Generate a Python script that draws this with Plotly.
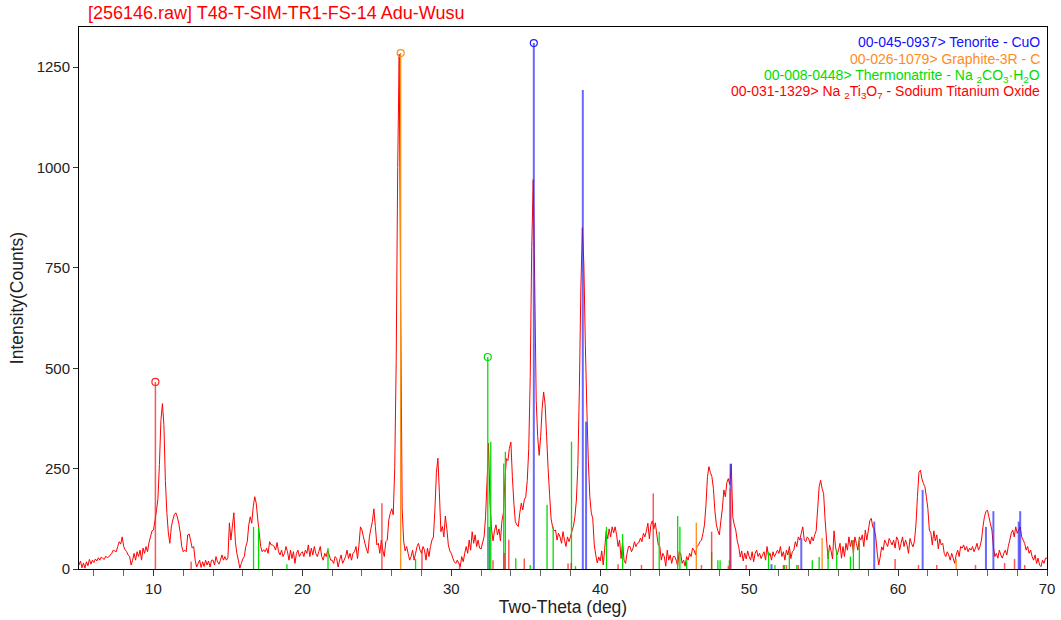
import numpy as np
import plotly.graph_objects as go

# ---- measured pattern: 2-theta 5.0 .. 70.0 deg, 0.1 deg step ----
two_theta_start = 5.0
two_theta_step = 0.1
counts = [
    10, 20, 3, 15, 2, 18, 8, 24, 12, 22,            # 5
    16, 25, 20, 28, 22, 30, 26, 24, 32, 28,         # 6
    30, 35, 39, 47, 45, 43, 56, 68, 62, 80,         # 7
    56, 48, 43, 35, 31, 10, 22, 39, 22, 43,         # 8
    31, 47, 22, 52, 39, 56, 43, 66, 80, 95,         # 9
    97, 120, 145, 175, 260, 370, 412, 360, 220, 140,  # 10
    90, 64, 105, 122, 135, 140, 130, 114, 90, 56,   # 11
    43, 47, 43, 85, 87, 70, 52, 56, 22, 5,          # 12
    14, 22, 4, 18, 6, 22, 10, 20, 5, 22,            # 13
    22, 10, 31, 18, 12, 22, 35, 22, 31, 22,         # 14
    28, 115, 72, 107, 140, 68, 39, 22, 2, 14,       # 15
    25, 31, 56, 68, 110, 130, 114, 155, 180, 164,   # 16
    125, 90, 56, 43, 48, 43, 52, 39, 68, 60,        # 17
    60, 56, 47, 66, 43, 35, 47, 31, 39, 56,         # 18
    43, 22, 47, 26, 43, 14, 39, 47, 31, 39,         # 19
    43, 31, 47, 39, 60, 31, 52, 35, 56, 39,         # 20
    31, 43, 56, 31, 22, 39, 31, 47, 35, 22,         # 21
    22, 14, 31, 26, 5, 22, 35, 14, 22, 31,          # 22
    47, 26, 39, 22, 39, 43, 56, 26, 60, 105,        # 23
    97, 80, 64, 50, 39, 80, 100, 118, 150, 106,     # 24
    60, 64, 39, 72, 47, 31, 68, 72, 122, 139,       # 25
    150, 135, 250, 520, 1000, 1282, 650, 150, 70, 45,  # 26
    56, 39, 22, 31, 47, 22, 39, 56, 64, 47,         # 27
    39, 56, 47, 22, 52, 31, 56, 72, 80, 150,        # 28
    240, 276, 190, 93, 106, 80, 132, 100, 60, 45,   # 29
    39, 27, 18, 14, 22, 14, 6, 31, 18, 39,          # 30
    56, 39, 72, 47, 93, 64, 85, 56, 72, 52,         # 31
    50, 65, 80, 130, 220, 313, 160, 100, 70, 95,    # 32
    110, 85, 100, 70, 120, 140, 220, 275, 270, 300, # 33
    316, 230, 164, 118, 110, 106, 140, 164, 147, 172,  # 34
    180, 220, 300, 480, 800, 970, 720, 420, 330, 283,  # 35
    330, 400, 441, 410, 330, 250, 185, 125, 105, 95,   # 36
    97, 72, 89, 80, 64, 93, 72, 56, 80, 68,         # 37
    80, 95, 106, 130, 172, 260, 450, 700, 850, 760, # 38
    560, 400, 270, 180, 140, 125, 60, 35, 15, 30,   # 39
    20, 45, 10, 50, 95, 75, 100, 80, 105, 90,       # 40
    105, 85, 56, 72, 26, 68, 22, 14, 39, 56,        # 41
    56, 43, 52, 68, 56, 64, 66, 77, 68, 89,         # 42
    80, 95, 114, 75, 110, 120, 100, 115, 85, 60,    # 43
    56, 22, 39, 31, 7, 47, 22, 35, 14, 31,          # 44
    31, 22, 7, 43, 39, 14, 22, 7, 31, 22,           # 45
    39, 31, 52, 47, 35, 56, 60, 68, 72, 89,         # 46
    110, 160, 230, 255, 240, 230, 200, 145, 110, 95,  # 47
    85, 120, 150, 197, 180, 215, 225, 210, 262, 130,  # 48
    110, 97, 70, 55, 30, 45, 20, 40, 25, 45,        # 49
    31, 22, 43, 18, 39, 47, 31, 39, 26, 35,         # 50
    43, 22, 56, 31, 39, 22, 43, 31, 39, 47,         # 51
    39, 56, 31, 43, 22, 47, 35, 56, 26, 43,         # 52
    47, 68, 56, 80, 72, 89, 105, 72, 68, 80,        # 53
    75, 62, 80, 70, 85, 95, 150, 205, 221, 200,     # 54
    188, 122, 72, 25, 60, 45, 25, 95, 55, 35,       # 55
    47, 64, 27, 56, 31, 64, 47, 80, 56, 72,         # 56
    39, 80, 64, 47, 80, 72, 85, 56, 97, 72,         # 57
    95, 120, 126, 105, 100, 80, 40, 10, 30, 55,     # 58
    47, 72, 64, 56, 76, 68, 60, 72, 52, 80,         # 59
    72, 47, 64, 80, 56, 72, 60, 39, 76, 64,         # 60
    55, 70, 110, 180, 240, 246, 225, 213, 205, 180, # 61
    150, 97, 90, 60, 95, 70, 85, 50, 75, 60,        # 62
    64, 39, 31, 43, 35, 22, 39, 27, 14, 35,         # 63
    47, 31, 56, 52, 60, 47, 56, 43, 52, 47,         # 64
    56, 43, 52, 64, 47, 56, 72, 105, 130, 143,      # 65
    147, 130, 113, 97, 56, 31, 39, 27, 47, 35,      # 66
    27, 39, 47, 35, 56, 72, 89, 97, 80, 105,        # 67
    89, 97, 105, 80, 72, 64, 47, 56, 39, 47,        # 68
    31, 22, 35, 14, 27, 10, 6, 22, 14, 27,          # 69
    27,                                             # 70
]
two_theta = np.round(two_theta_start + two_theta_step * np.arange(len(counts)), 2)

# ---- reference stick patterns (PDF cards) ----
tenorite_pos = [32.55, 35.54, 38.83, 39.05, 48.75, 51.5, 53.5, 58.4, 61.65, 65.9, 66.4, 68.1, 68.2]
tenorite_int = [105, 1310, 1193, 367, 262, 12, 77, 118, 197, 105, 144, 118, 144]

graphite_pos = [26.6, 46.45, 54.9, 63.9]
graphite_int = [1285, 115, 77, 25]

thermonatrite_pos = [16.72, 17.06, 18.96, 21.72, 27.6, 32.45, 32.65, 33.52, 33.63, 34.33,
                     35.3, 36.43, 36.84, 38.07, 38.34, 40.42, 41.5, 43.96, 45.2, 45.35,
                     45.8, 47.48, 47.9, 48.05, 48.67, 51.3, 51.73, 52.36, 52.7, 53.2,
                     54.24, 54.7, 55.3, 55.88, 56.8, 57.0, 57.4]
thermonatrite_int = [105, 105, 12, 52, 25, 528, 317, 263, 292, 27,
                     10, 160, 105, 317, 7, 105, 87, 93, 132, 105,
                     22, 43, 22, 22, 22, 43, 10, 10, 43, 10,
                     22, 30, 47, 47, 31, 72, 72]

na2ti3o7_pos = [10.13, 12.53, 25.34, 28.03, 30.56, 32.8, 33.55, 33.86, 34.9, 37.84,
                38.05, 41.2, 42.77, 43.56, 46.8, 47.48, 48.6, 48.72, 49.8, 52.3,
                52.5, 53.3, 59.8, 61.37, 62.6, 65.2, 67.15, 67.82, 68.5]
na2ti3o7_int = [466, 18, 164, 47, 14, 22, 40, 73, 26, 14,
                15, 12, 10, 188, 10, 93, 8, 200, 10, 10,
                10, 10, 25, 10, 10, 10, 15, 25, 10]

phase_labels = [
    "00-045-0937> Tenorite - CuO",
    "00-026-1079> Graphite-3R - C",
    "00-008-0448> Thermonatrite - Na <sub>2</sub>CO<sub>3</sub>·H<sub>2</sub>O",
    "00-031-1329> Na <sub>2</sub>Ti<sub>3</sub>O<sub>7</sub> - Sodium Titanium Oxide",
]

title_text = "[256146.raw] T48-T-SIM-TR1-FS-14 Adu-Wusu"
x_label = "Two-Theta (deg)"
y_label = "Intensity(Counts)"

FONT = "Liberation Sans, Arial, sans-serif"


def stick_xy(pos, inten):
    xs, ys = [], []
    for p, h in zip(pos, inten):
        xs += [p, p, None]
        ys += [0, h, None]
    return xs, ys


fig = go.Figure()

# measured scan
fig.add_trace(go.Scatter(
    x=two_theta, y=counts, mode="lines",
    line=dict(color="#ff0000", width=1, simplify=False),
    hoverinfo="skip", showlegend=False,
))

phases = [
    (tenorite_pos, tenorite_int, "rgba(40,40,255,0.7)", "#2020ff", 2.0),
    (graphite_pos, graphite_int, "#ff8c1a", "#ff8c1a", 1.3),
    (thermonatrite_pos, thermonatrite_int, "#00dd00", "#00dd00", 1.3),
    (na2ti3o7_pos, na2ti3o7_int, "rgba(255,30,30,0.75)", "#ff2020", 1.5),
]

for pos, inten, col, mcol, w in phases:
    xs, ys = stick_xy(pos, inten)
    fig.add_trace(go.Scatter(
        x=xs, y=ys, mode="lines", line=dict(color=col, width=w),
        hoverinfo="skip", showlegend=False,
    ))
    k = int(np.argmax(inten))
    fig.add_trace(go.Scatter(
        x=[pos[k]], y=[inten[k]], mode="markers",
        marker=dict(symbol="circle-open", size=7, color=mcol, line=dict(width=1.2)),
        hoverinfo="skip", showlegend=False,
    ))

label_colors = ["#1010ff", "#ff8c1a", "#00dd00", "#ff0000"]
label_y = [0.9723, 0.941, 0.9096, 0.880]
for txt, c, yy in zip(phase_labels, label_colors, label_y):
    fig.add_annotation(
        text=txt, xref="paper", yref="paper", x=0.9945, y=yy,
        xanchor="right", yanchor="middle", showarrow=False,
        font=dict(family=FONT, size=14, color=c),
    )

fig.update_layout(
    width=1061, height=620,
    margin=dict(l=79, r=14, t=27, b=51),
    paper_bgcolor="white", plot_bgcolor="white",
    font=dict(family=FONT, color="#222"),
    title=dict(
        text=title_text, xref="container", yref="container",
        x=88 / 1061, xanchor="left", y=1 - 13 / 620, yanchor="middle",
        font=dict(family=FONT, size=18, color="#ff0000"),
    ),
    xaxis=dict(
        range=[5, 70], dtick=10, tick0=0,
        showgrid=False, zeroline=False,
        showline=True, mirror=True, linecolor="black", linewidth=1,
        ticks="outside", ticklen=6, tickcolor="#333",
        minor=dict(dtick=2, tick0=0, ticks="outside", ticklen=6, tickcolor="#666", showgrid=False),
        tickfont=dict(family=FONT, size=15, color="#222"),
        title=dict(text=x_label, font=dict(family=FONT, size=17.5, color="#222"), standoff=3),
        automargin=False,
    ),
    yaxis=dict(
        range=[0, 1350], tickvals=[0, 250, 500, 750, 1000, 1250],
        showgrid=False, zeroline=False,
        showline=True, mirror=True, linecolor="black", linewidth=1,
        ticks="outside", ticklen=5, tickcolor="#333",
        tickfont=dict(family=FONT, size=15, color="#222"),
        title=dict(text=y_label, font=dict(family=FONT, size=17.5, color="#222"), standoff=8),
        automargin=False,
    ),
)

fig.write_html("out.html")
